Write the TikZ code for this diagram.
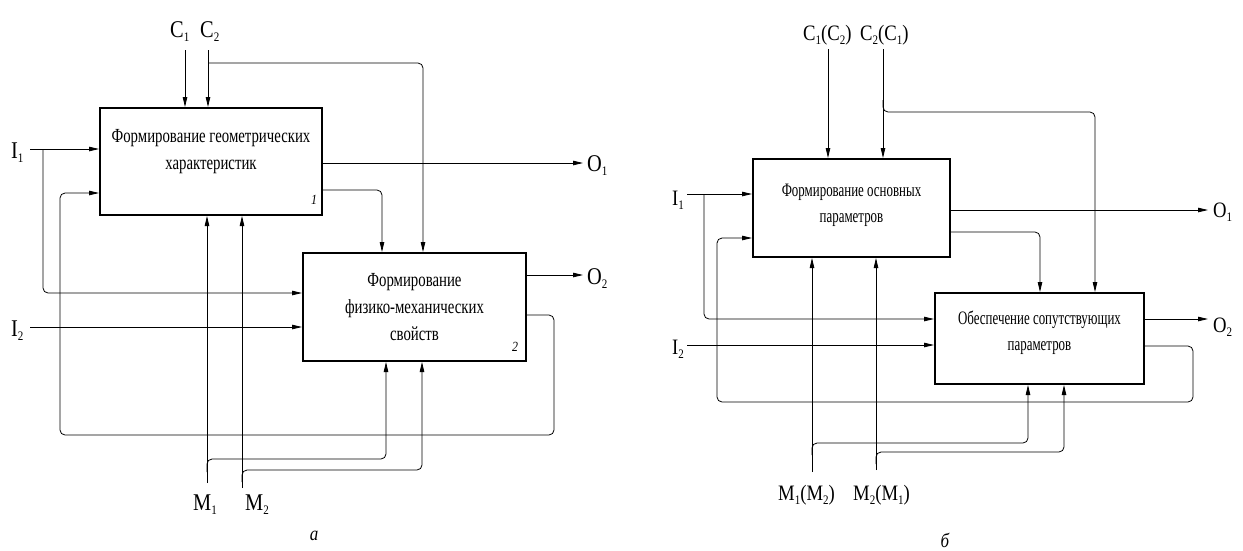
\documentclass[tikz,border=0pt]{standalone}
\usepackage{fontspec}
\setmainfont{Liberation Serif}
\newfontfamily\boxfontA[FakeStretch=0.74]{Liberation Serif}
\newfontfamily\boxfontB[FakeStretch=0.68]{Liberation Serif}
\newfontfamily\lblfont[FakeStretch=0.85]{Liberation Serif}
\newfontfamily\numfont[FakeStretch=0.85]{Liberation Serif Italic}
\usetikzlibrary{arrows.meta}
\newcommand\sbs[1]{\raisebox{-4pt}{\fontsize{13}{13}\selectfont #1}}
\begin{document}
\begin{tikzpicture}[x=1pt,y=-1pt,
  box/.style={draw, line width=2pt, inner sep=0pt},
  conn/.style={line width=0.8pt},
  arr/.style={conn, -{Triangle[length=10pt,width=4.5pt]}},
  rc/.style={rounded corners=5pt},
  btA/.style={font=\boxfontA\fontsize{20}{27}\selectfont, align=center, inner sep=0pt},
  btB/.style={font=\boxfontB\fontsize{19}{26}\selectfont, align=center, inner sep=0pt},
  lblA/.style={font=\lblfont\fontsize{24}{24}\selectfont, anchor=base west, inner sep=0pt},
  lblB/.style={font=\lblfont\fontsize{22}{22}\selectfont, anchor=base west, inner sep=0pt},
  num/.style={font=\numfont\fontsize{14}{14}\selectfont, inner sep=0pt},
  figcap/.style={font=\numfont\fontsize{20}{20}\selectfont, inner sep=0pt}
]
\useasboundingbox (0,0) rectangle (1243,550);

% ---------------- diagram a ----------------
\node[box, minimum width=222pt, minimum height=107pt] (b1) at (211,161.5) {};
\node[btA] (b1t) at (211,151.5) {Формирование геометрических\\характеристик};
\node[num] (b1n) at (314,200) {1};
\node[box, minimum width=223pt, minimum height=108pt] (b2) at (414.5,307) {};
\node[btA] (b2t) at (414.5,307) {Формирование\\физико-механических\\свойств};
\node[num] (b2n) at (515,347) {2};

\node[lblA] (lc1) at (170,37) {C\sbs{1}};
\node[lblA] (lc2) at (200,37) {C\sbs{2}};
\node[lblA] (li1) at (11,158) {I\sbs{1}};
\node[lblA] (li2) at (11,336) {I\sbs{2}};
\node[lblA] (lo1) at (587,171) {O\sbs{1}};
\node[lblA] (lo2) at (587,284) {O\sbs{2}};
\node[lblA] (lm1) at (193,510) {M\sbs{1}};
\node[lblA] (lm2) at (245,510) {M\sbs{2}};
\node[figcap] (capa) at (314,536) {a};

\coordinate (c1s) at (185,50);
\coordinate (c2s) at (208,50);
\coordinate (c2j) at (208,63);
\coordinate (i1s) at (30,149);
\coordinate (i1j) at (43,149);
\coordinate (i2s) at (30,327);
\coordinate (o1e) at (583,163);
\coordinate (o2e) at (583,275);
\coordinate (m1s) at (207,483);
\coordinate (m1j) at (207,472);
\coordinate (m2s) at (242,488);
\coordinate (m2j) at (242,482);

\draw[arr] (c1s) -- (c1s |- b1.north);
\draw[arr] (c2s) -- (c2s |- b1.north);
\draw[arr, rc] (c2j) -- (423,63) -- (423,0 |- b2.north);
\draw[arr] (i1s) -- (i1s -| b1.west);
\draw[arr, rc] (i1j) -- (43,293) -- (43,293 -| b2.west);
\draw[arr] (i2s) -- (i2s -| b2.west);
\draw[arr] (o1e -| b1.east) -- (o1e);
\draw[arr] (o2e -| b2.east) -- (o2e);
\draw[arr, rc] (b1.east |- 0,190) -- (382,190) -- (382,0 |- b2.north);
\draw[arr, rc] (b2.east |- 0,315) -- (554,315) -- (554,435) -- (60,435) -- (60,193) -- (60,193 -| b1.west);
\draw[arr] (m1s) -- (m1s |- b1.south);
\draw[arr, rc] (m1j) -- (207,459) -- (386,459) -- (386,0 |- b2.south);
\draw[arr] (m2s) -- (m2s |- b1.south);
\draw[arr, rc] (m2j) -- (242,470) -- (422,470) -- (422,0 |- b2.south);

% ---------------- diagram b ----------------
\node[box, minimum width=197pt, minimum height=98pt] (b3) at (851.5,208) {};
\node[btB] (b3t) at (851.5,205) {Формирование основных\\параметров};
\node[box, minimum width=209pt, minimum height=91pt] (b4) at (1039.5,338.5) {};
\node[btB] (b4t) at (1039.5,332.5) {Обеспечение сопутствующих\\параметров};

\node[lblB] (rc1) at (803,40) {C\sbs{1}(C\sbs{2})};
\node[lblB] (rc2) at (860,40) {C\sbs{2}(C\sbs{1})};
\node[lblB] (ri1) at (672,205) {I\sbs{1}};
\node[lblB] (ri2) at (672,354) {I\sbs{2}};
\node[lblB] (ro1) at (1213,217) {O\sbs{1}};
\node[lblB] (ro2) at (1213,332) {O\sbs{2}};
\node[lblB] (rm1) at (778,500) {M\sbs{1}(M\sbs{2})};
\node[lblB] (rm2) at (853,500) {M\sbs{2}(M\sbs{1})};
\node[figcap] (capb) at (945,540) {б};

\coordinate (rc1s) at (828,49);
\coordinate (rc2s) at (883,49);
\coordinate (rc2j) at (883,100);
\coordinate (ri1s) at (687,194);
\coordinate (ri1j) at (704,194);
\coordinate (ri2s) at (687,345);
\coordinate (ro1e) at (1208,210);
\coordinate (ro2e) at (1208,319);
\coordinate (rm1s) at (812,472);
\coordinate (rm1j) at (812,455);
\coordinate (rm2s) at (876,470);
\coordinate (rm2j) at (876,464);

\draw[arr] (rc1s) -- (rc1s |- b3.north);
\draw[arr] (rc2s) -- (rc2s |- b3.north);
\draw[arr, rc] (rc2j) -- (883,112) -- (1095,112) -- (1095,0 |- b4.north);
\draw[arr] (ri1s) -- (ri1s -| b3.west);
\draw[arr, rc] (ri1j) -- (704,319) -- (704,319 -| b4.west);
\draw[arr] (ri2s) -- (ri2s -| b4.west);
\draw[arr] (ro1e -| b3.east) -- (ro1e);
\draw[arr] (ro2e -| b4.east) -- (ro2e);
\draw[arr, rc] (b3.east |- 0,232) -- (1040,232) -- (1040,0 |- b4.north);
\draw[arr, rc] (b4.east |- 0,346) -- (1193,346) -- (1193,402) -- (717,402) -- (717,238) -- (717,238 -| b3.west);
\draw[arr] (rm1s) -- (rm1s |- b3.south);
\draw[arr, rc] (rm1j) -- (812,443) -- (1028,443) -- (1028,0 |- b4.south);
\draw[arr] (rm2s) -- (rm2s |- b3.south);
\draw[arr, rc] (rm2j) -- (876,452) -- (1064,452) -- (1064,0 |- b4.south);
\end{tikzpicture}
\end{document}
